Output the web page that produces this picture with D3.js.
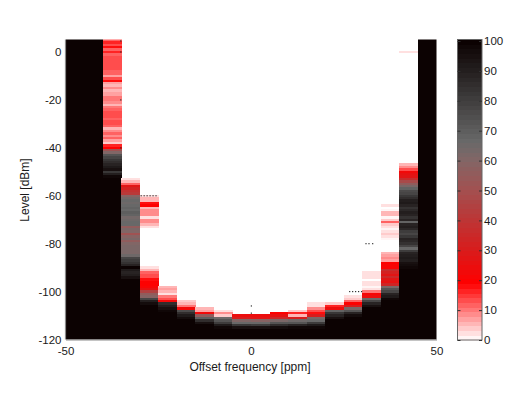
<!DOCTYPE html>
<html>
<head>
<meta charset="utf-8">
<script src="https://cdnjs.cloudflare.com/ajax/libs/d3/7.8.5/d3.min.js"></script>
<style>
body { margin: 0; background: #fff; }
text { font-family: "Liberation Sans", Arial, sans-serif; fill: #1a1a1a; }
</style>
</head>
<body>
<div id="chart"></div>
<script>
// offset frequency of each column centre [ppm]
const offsets = [-47.5, -42.5, -37.5, -32.5, -27.5, -22.5, -17.5, -12.5, -7.5, -2.5,
    2.5, 7.5, 12.5, 17.5, 22.5, 27.5, 32.5, 37.5, 42.5, 47.5];

// level [dBm] of the first entry in each list below, going down 1 dB per entry.
// above the first entry the column is 0, below the last entry it is 100
const firstLevel = [6, 6, 6, -53, -60, -98, -104, -107, -108, -110,
    -110, -109, -108, -105, -105, -102, -92, -64, 0, 6];

const col_m375 = [12, 12, 16, 14, 18, 12, 17, 11, 13, 14, 14, 14, 14, 14, 12, 11, 7, 13, 18, 7, 6, 9, 6, 7, 7, 10, 10, 8, 5, 10,
    12, 13, 14, 13, 12, 14, 13, 12, 6, 9, 11, 8, 11, 7, 4, 17, 20, 50, 60, 72, 78, 82, 85, 88, 92, 95, 82, 90, 98];
const col_m325 = [3, 6, 12, 28, 32, 38, 42, 58, 63, 67, 65, 67, 68, 66, 69, 68, 63, 65, 67, 66, 56, 62, 60, 50, 58, 62, 56,
    60, 62, 61, 61, 62, 65, 78, 80, 84, 88, 99, 92, 88, 90, 94];
const col_m275 = [3, 5, 5, 18, 20, 5, 8, 9, 9, 3, 8, 9, 6, 3, 0, 0, 0, 0, 0, 0, 0, 0, 0, 0, 0, 0, 0, 0, 0, 0,
    3, 5, 11, 13, 14, 18, 20, 20, 21, 25, 45, 55, 58, 78, 90, 96];
const col_m225 = [6, 7, 6, 3, 10, 14, 22, 85, 90, 94, 98];
const col_m175 = [4, 6, 10, 22, 75, 85, 92, 96];
const col_m125 = [5, 7, 22, 55, 70, 85, 95];
const col_m75 = [3, 8, 4, 65, 72, 80, 92, 97];
const col_m25 = [24, 30, 60, 66, 82, 95];
const col_p25 = [24, 28, 58, 66, 80, 95];
const col_p75 = [20, 26, 35, 62, 72, 85, 96];
const col_p125 = [4, 16, 5, 30, 65, 72, 88, 97];
const col_p175 = [3, 2, 8, 14, 18, 30, 62, 66, 80, 92, 98];
const col_p225 = [4, 16, 24, 68, 82, 88, 94];
const col_p275 = [3, 4, 12, 20, 30, 62, 72, 88, 96];
const col_p325 = [3, 3, 3, 0, 2, 3, 1, 3, 10, 21, 24, 65, 78, 88, 94];
const col_p375 = [2, 0, 1, 5, 6, 1, 4, 11, 4, 2, 1, 3, 4, 2, 1, 0, 0, 0, 0, 0, 5, 7, 8, 7, 19, 21, 21, 36, 32, 28, 35, 28,
    25, 33, 62, 72, 78, 88, 92, 97];
const col_p425 = [3, 0, 0, 0, 0, 0, 0, 0, 0, 0, 0, 0, 0, 0, 0, 0, 0, 0, 0, 0, 0, 0, 0, 0, 0, 0, 0, 0, 0, 0, 0, 0, 0, 0, 0, 0, 0,
    0, 0, 0, 0, 0, 0, 0, 0, 0, 0, 5, 8, 14, 22, 25, 28, 36, 48, 56, 62, 68, 75, 78, 82, 85, 90, 92, 88, 84, 86, 90, 88, 84, 88,
    68, 88, 90, 86, 80, 78, 82, 88, 86, 84, 78, 66, 80, 88, 90, 92, 90, 94, 96, 98, 99];

const columns = [[], [], col_m375, col_m325, col_m275, col_m225, col_m175, col_m125, col_m75, col_m25,
    col_p25, col_p75, col_p125, col_p175, col_p225, col_p275, col_p325, col_p375, col_p425, []];

// the few stray grid dots left visible on the white part
const dotOffsets = [-35.1, -35.1, -35.1, -35.1, -29.6, -28.8, -28, -27.2, -26.4, -25.6, 31, 31.8, 32.8,
    26.6, 27.4, 28.2, 29, 29.8, 0.1, 0.1];
const dotLevels = [4.6, 0, -20, -40, -60, -60, -60, -60, -60, -60, -80, -80, -80,
    -100, -100, -100, -100, -100, -106, -109];

const xTicks = [-50, 0, 50];
const yTicks = [0, -20, -40, -60, -80, -100, -120];
const barTicks = [0, 10, 20, 30, 40, 50, 60, 70, 80, 90, 100];

// colormap white -> red -> grey -> black, 64 steps like the colorbar
const cmapStops = [0, 19, 30, 40, 50, 60, 66, 80, 90, 100];
const cmapColors = ['#ffffff', '#ff0000', '#d81c1c', '#bd3535', '#a35050', '#826666', '#696969', '#3f3d3d', '#231e1e', '#0a0000'];
const nColors = 64;

const width = 527, height = 394;

const svg = d3.select('#chart').append('svg')
    .attr('width', width)
    .attr('height', height)
    .style('display', 'block');

const x = d3.scaleLinear().domain([-50, 50]).range([65.5, 436.5]);
const y = d3.scaleLinear().domain([-120, 0]).range([339.5, 52]);
const plotTop = 39.5;

const colorRamp = d3.scaleLinear().domain(cmapStops).range(cmapColors).interpolate(d3.interpolateRgb);
const color = v => colorRamp((Math.min(nColors - 1, Math.floor(v / 100 * nColors)) + 0.5) / nColors * 100);

const defs = svg.append('defs');
defs.append('clipPath').attr('id', 'plotClip')
    .append('rect')
    .attr('x', x(-50)).attr('y', plotTop)
    .attr('width', x(50) - x(-50)).attr('height', y(-120) - plotTop);

// the reference image was rescaled, its rows run into each other a little
defs.append('filter').attr('id', 'rowBlur')
    .attr('filterUnits', 'userSpaceOnUse')
    .attr('x', 0).attr('y', 0).attr('width', width).attr('height', height)
    .attr('color-interpolation-filters', 'sRGB')
    .append('feGaussianBlur').attr('stdDeviation', '0.25 0.55');

const heat = svg.append('g').attr('clip-path', 'url(#plotClip)')
    .append('g').attr('filter', 'url(#rowBlur)')
    .attr('shape-rendering', 'crispEdges');

// every column is one black bar with the measured rows on top of it
offsets.forEach((off, i) => {
    const vals = columns[i];
    const lastLevel = firstLevel[i] - vals.length;
    const cx0 = x(off - 2.5), cx1 = x(off + 2.5);
    heat.append('rect')
        .attr('x', cx0).attr('width', cx1 - cx0 + 0.5)
        .attr('y', y(lastLevel + 0.5))
        .attr('height', y(-125) - y(lastLevel + 0.5))
        .attr('fill', color(100));
    heat.selectAll(null)
        .data(vals.map((v, k) => ({level: firstLevel[i] - k, value: v})).filter(d => d.value > 0))
        .join('rect')
        .attr('x', cx0).attr('width', cx1 - cx0 + 0.5)
        .attr('y', d => y(d.level + 0.5))
        .attr('height', d => y(d.level - 0.5) - y(d.level + 0.5) + 0.3)
        .attr('fill', d => color(d.value));
});

svg.append('g').attr('clip-path', 'url(#plotClip)')
    .selectAll('rect')
    .data(dotOffsets.map((o, i) => [o, dotLevels[i]]))
    .join('rect')
    .attr('x', d => x(d[0]) - 0.6)
    .attr('y', d => y(d[1]) - 0.6)
    .attr('width', 1.2)
    .attr('height', 1.2)
    .attr('fill', '#333');

// axes, with a plain hyphen in the tick labels
const plainNumber = d => String(d);
const xAxis = svg.append('g')
    .attr('transform', `translate(0,${y(-120)})`)
    .call(d3.axisBottom(x).tickValues(xTicks).tickSize(0).tickPadding(7).tickFormat(plainNumber));
const yAxis = svg.append('g')
    .attr('transform', `translate(${x(-50)},0)`)
    .call(d3.axisLeft(y).tickValues(yTicks).tickSize(0).tickPadding(4).tickFormat(plainNumber));

[xAxis, yAxis].forEach(a => {
    a.select('.domain').attr('stroke', '#8a8a8a').attr('stroke-width', 1.2);
    a.selectAll('text').style('font-size', '11.5px').style('font-family', 'Liberation Sans').attr('fill', '#1a1a1a');
});
yAxis.select('.domain').attr('d', `M0,${y(-120)}V${plotTop}`);

svg.append('text')
    .attr('x', 250).attr('y', 371)
    .attr('text-anchor', 'middle')
    .style('font-size', '12px')
    .text('Offset frequency [ppm]');

svg.append('text')
    .attr('transform', 'translate(29,190) rotate(-90)')
    .attr('text-anchor', 'middle')
    .style('font-size', '12px')
    .text('Level [dBm]');

// colorbar
const barX0 = 457.5, barX1 = 482;
const barY = d3.scaleLinear().domain([0, 100]).range([340, 41]);
const bar = svg.append('g');

bar.append('g').attr('shape-rendering', 'crispEdges')
    .selectAll('rect')
    .data(d3.range(nColors))
    .join('rect')
    .attr('x', barX0)
    .attr('width', barX1 - barX0)
    .attr('y', d => barY((d + 1) / nColors * 100.5))
    .attr('height', d => barY(d / nColors * 100.5) - barY((d + 1) / nColors * 100.5) + 0.5)
    .attr('fill', d => color((d + 0.5) / nColors * 100));

bar.append('rect')
    .attr('x', barX0).attr('y', barY(100.5))
    .attr('width', barX1 - barX0).attr('height', barY(0) - barY(100.5))
    .attr('fill', 'none')
    .attr('stroke', '#666');

const barRight = svg.append('g')
    .attr('transform', `translate(${barX1},0)`)
    .call(d3.axisRight(barY).tickValues(barTicks).tickSizeInner(-3).tickSizeOuter(0).tickPadding(2));
const barLeft = svg.append('g')
    .attr('transform', `translate(${barX0},0)`)
    .call(d3.axisLeft(barY).tickValues(barTicks).tickSizeInner(-3).tickSizeOuter(0).tickFormat(''));

[barRight, barLeft].forEach(a => {
    a.select('.domain').remove();
    a.selectAll('line').attr('stroke', '#333');
});
barRight.selectAll('text').style('font-size', '11.5px').style('font-family', 'Liberation Sans').attr('fill', '#1a1a1a');
</script>
</body>
</html>
